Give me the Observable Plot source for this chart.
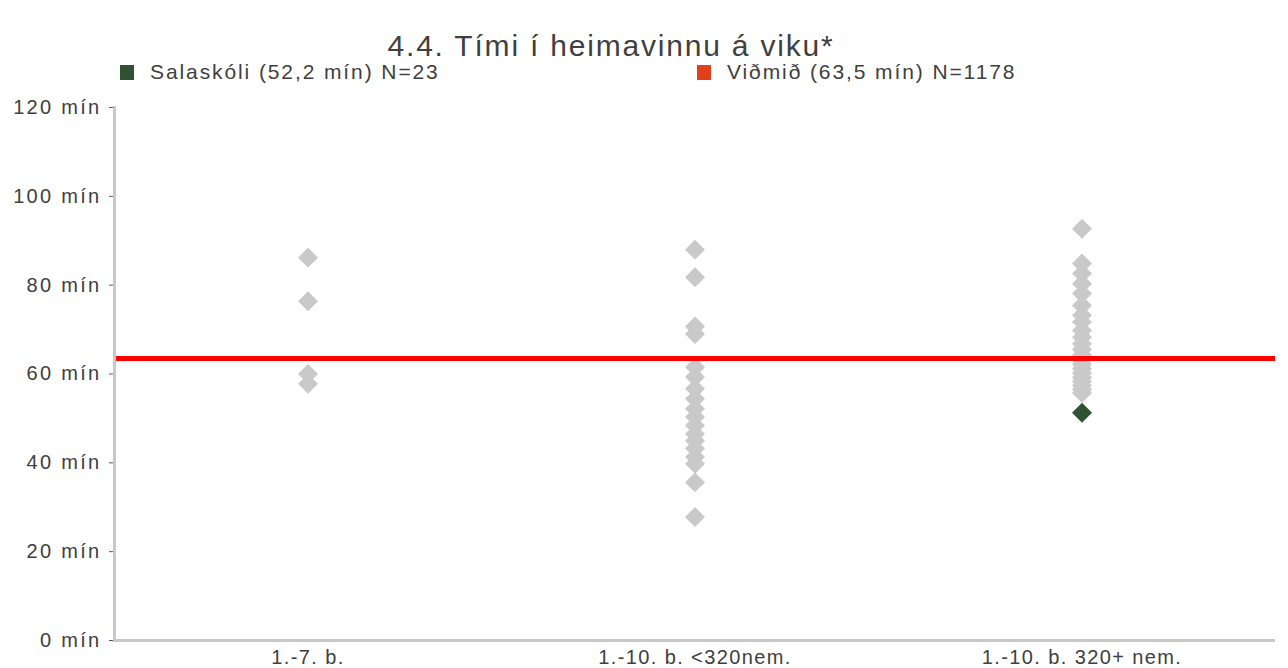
<!DOCTYPE html>
<html>
<head>
<meta charset="utf-8">
<script src="https://cdn.jsdelivr.net/npm/d3@7"></script>
<script src="https://cdn.jsdelivr.net/npm/@observablehq/plot@0.6"></script>
<style>
  html, body { margin: 0; padding: 0; background: #fff; }
  body { width: 1288px; height: 668px; overflow: hidden; font-family: "Liberation Sans", "DejaVu Sans", sans-serif; color: #404040; }
  #header { position: relative; height: 95px; }
  #title { position: absolute; left: 0; width: 1222px; top: 29px; text-align: center; font-size: 30px; line-height: 34px; color: #404040; letter-spacing: 1.8px; }
  .leg { position: absolute; top: 60px; font-size: 21px; line-height: 24px; color: #404040; letter-spacing: 1.9px; display: flex; align-items: center; white-space: nowrap; }
  .sw { display: inline-block; width: 14px; height: 15px; margin-right: 16px; }
  svg { display: block; }
</style>
</head>
<body>
<div id="header">
  <div id="title"></div>
  <div class="leg" id="leg1" style="left:120px"></div>
  <div class="leg" id="leg2" style="left:697px"></div>
</div>
<div id="chart"></div>
<script>
const titleText = "4.4. Tími í heimavinnu á viku*";
const categories = ["1.-7. b.", "1.-10. b. <320nem.", "1.-10. b. 320+ nem."];
const group1Values = [86.2, 76.4, 60.0, 57.8];
const group2Values = [88.0, 81.8, 70.7, 69.0, 61.5, 59.3, 56.7, 54.4, 52.2, 50.3, 48.4, 46.5, 45.0, 43.2, 41.3, 39.8, 35.6, 27.8];
const group3Values = [92.7, 84.9, 82.6, 80.3, 78.1, 75.4, 73.2, 71.7, 69.8, 68.3, 66.8, 65.5, 64.3, 63.2, 62.2, 61.2, 60.2, 59.2, 58.3, 57.4, 56.5, 55.7];
const schoolName = "Salaskóli";
const schoolCategory = "1.-10. b. 320+ nem.";
const schoolValue = 51.3;
const benchmarkValue = 63.5;
const legendLabels = ["Salaskóli (52,2 mín) N=23", "Viðmið (63,5 mín) N=1178"];
const yTicks = [0, 20, 40, 60, 80, 100, 120];

const colors = { gray: "#c9c9c9", school: "#2f5233", benchmarkLine: "#ff0000", benchmarkKey: "#e2401a" };

document.getElementById("title").textContent = titleText;
function legend(id, color, label) {
  const el = document.getElementById(id);
  const sw = document.createElement("span");
  sw.className = "sw"; sw.style.background = color;
  el.appendChild(sw);
  el.appendChild(document.createTextNode(label));
}
legend("leg1", colors.school, legendLabels[0]);
legend("leg2", colors.benchmarkKey, legendLabels[1]);

const grayPoints = [
  ...group1Values.map(v => ({category: categories[0], value: v})),
  ...group2Values.map(v => ({category: categories[1], value: v})),
  ...group3Values.map(v => ({category: categories[2], value: v}))
];
const schoolPoint = [{category: schoolCategory, value: schoolValue, name: schoolName}];

const chart = Plot.plot({
  width: 1288,
  height: 573,
  marginTop: 12,
  marginBottom: 28,
  marginLeft: 114,
  marginRight: 13,
  style: { fontFamily: "Liberation Sans, DejaVu Sans, sans-serif", fontSize: "18px", color: "#404040", background: "#fff" },
  x: { type: "band", domain: categories, padding: 0, axis: null, label: null },
  y: { domain: [0, 120], axis: null, label: null },
  marks: [
    Plot.axisY({ ticks: yTicks, tickSize: 5, tickPadding: 8, tickFormat: d => `${d} mín`, stroke: "#595959", fill: "#404040", fontSize: 20, label: null }),
    Plot.axisX({ tickSize: 0, tickPadding: 9, fill: "#404040", fontSize: 20, label: null }),
    Plot.dot(grayPoints, { x: "category", y: "value", symbol: "diamond2", r: 9, fill: colors.gray }),
    Plot.ruleY([benchmarkValue], { stroke: colors.benchmarkLine, strokeWidth: 5 }),
    Plot.dot(schoolPoint, { x: "category", y: "value", symbol: "diamond2", r: 9, fill: colors.school }),
    Plot.ruleY([0], { stroke: "#c8c8c8", strokeWidth: 3 }),
    Plot.frame({ anchor: "left", stroke: "#c8c8c8", strokeWidth: 3 })
  ]
});
document.getElementById("chart").appendChild(chart);
d3.select(chart).selectAll("[aria-label='y-axis tick label'] text").style("letter-spacing", "2.3px");
d3.select(chart).selectAll("[aria-label='x-axis tick label'] text").style("letter-spacing", "1.4px");
</script>
</body>
</html>
